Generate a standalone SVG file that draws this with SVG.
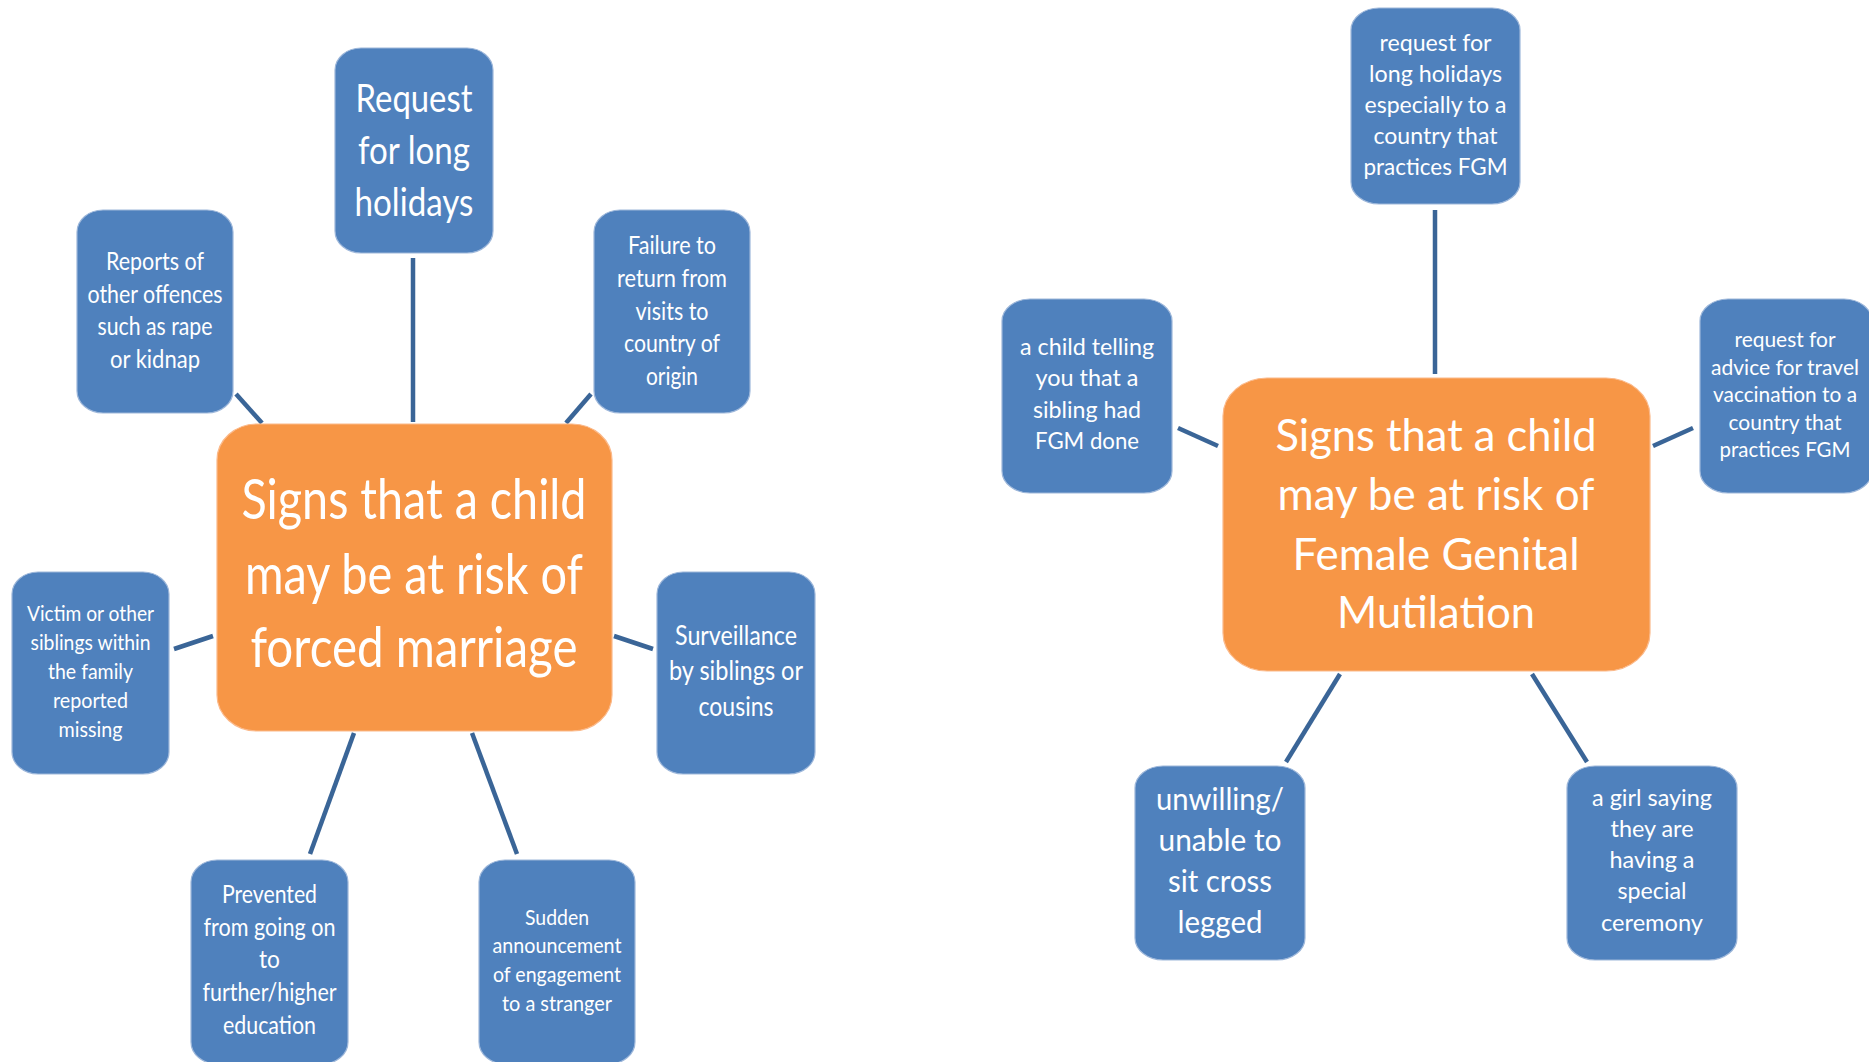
<svg xmlns="http://www.w3.org/2000/svg" width="1869" height="1062" viewBox="0 0 1869 1062">
<defs>
<style>
.b{fill:#4f81bd;stroke:#9db7da;stroke-width:1.2}
.o{fill:#f79646;stroke:#fbb98a;stroke-width:1.2}
text{font-family:Lato,"Open Sans","Liberation Sans",sans-serif;fill:#ffffff;text-anchor:middle}
.c line{stroke:#3a6597;stroke-width:4.5;stroke-linecap:butt}
</style>
</defs>
<rect width="1869" height="1062" fill="#ffffff"/>
<g class="c" id="connectors">
<line x1="413" y1="258" x2="413" y2="422"/>
<line x1="236" y1="394" x2="262" y2="423"/>
<line x1="591" y1="394" x2="566" y2="423"/>
<line x1="174" y1="649" x2="213" y2="636"/>
<line x1="614" y1="636" x2="653" y2="649"/>
<line x1="354" y1="733" x2="310" y2="854"/>
<line x1="472" y1="733" x2="517" y2="854"/>
<line x1="1435" y1="210" x2="1435" y2="374"/>
<line x1="1178" y1="428" x2="1218" y2="446"/>
<line x1="1653" y1="446" x2="1693" y2="428"/>
<line x1="1340" y1="674" x2="1286" y2="762"/>
<line x1="1532" y1="674" x2="1587" y2="762"/>
</g>
<g id="fm-center">
<rect class="o" x="217" y="424" width="395" height="307" rx="40" ry="36"/>
<g font-size="56">
<text x="414" y="519" textLength="345" lengthAdjust="spacingAndGlyphs">Signs that a child</text>
<text x="414" y="594" textLength="338" lengthAdjust="spacingAndGlyphs">may be at risk of</text>
<text x="414" y="667" textLength="327" lengthAdjust="spacingAndGlyphs">forced marriage</text>
</g>
</g>
<g id="fm-holidays">
<rect class="b" x="335" y="48" width="158" height="205" rx="26" ry="22"/>
<g font-size="39">
<text x="414" y="112" textLength="117" lengthAdjust="spacingAndGlyphs">Request</text>
<text x="414" y="164" textLength="112" lengthAdjust="spacingAndGlyphs">for long</text>
<text x="414" y="216" textLength="119" lengthAdjust="spacingAndGlyphs">holidays</text>
</g>
</g>
<g id="fm-reports">
<rect class="b" x="77" y="210" width="156" height="203" rx="26" ry="22"/>
<g font-size="25">
<text x="155" y="270" textLength="98" lengthAdjust="spacingAndGlyphs">Reports of</text>
<text x="155" y="302.5" textLength="135" lengthAdjust="spacingAndGlyphs">other offences</text>
<text x="155" y="335" textLength="115" lengthAdjust="spacingAndGlyphs">such as rape</text>
<text x="155" y="367.5" textLength="90" lengthAdjust="spacingAndGlyphs">or kidnap</text>
</g>
</g>
<g id="fm-failure">
<rect class="b" x="594" y="210" width="156" height="203" rx="26" ry="22"/>
<g font-size="25">
<text x="672" y="254" textLength="88" lengthAdjust="spacingAndGlyphs">Failure to</text>
<text x="672" y="287" textLength="110" lengthAdjust="spacingAndGlyphs">return from</text>
<text x="672" y="320" textLength="73" lengthAdjust="spacingAndGlyphs">visits to</text>
<text x="672" y="352" textLength="96" lengthAdjust="spacingAndGlyphs">country of</text>
<text x="672" y="385" textLength="52" lengthAdjust="spacingAndGlyphs">origin</text>
</g>
</g>
<g id="fm-victim">
<rect class="b" x="12" y="572" width="157" height="202" rx="26" ry="22"/>
<g font-size="22">
<text x="90.5" y="621" textLength="127" lengthAdjust="spacingAndGlyphs">Victim or other</text>
<text x="90.5" y="650" textLength="120" lengthAdjust="spacingAndGlyphs">siblings within</text>
<text x="90.5" y="679" textLength="85" lengthAdjust="spacingAndGlyphs">the family</text>
<text x="90.5" y="708" textLength="75" lengthAdjust="spacingAndGlyphs">reported</text>
<text x="90.5" y="737" textLength="64" lengthAdjust="spacingAndGlyphs">missing</text>
</g>
</g>
<g id="fm-surveillance">
<rect class="b" x="657" y="572" width="158" height="202" rx="26" ry="22"/>
<g font-size="27">
<text x="736" y="645" textLength="122" lengthAdjust="spacingAndGlyphs">Surveillance</text>
<text x="736" y="680" textLength="134" lengthAdjust="spacingAndGlyphs">by siblings or</text>
<text x="736" y="716" textLength="75" lengthAdjust="spacingAndGlyphs">cousins</text>
</g>
</g>
<g id="fm-prevented">
<rect class="b" x="191" y="860" width="157" height="204" rx="26" ry="22"/>
<g font-size="24.5">
<text x="269.5" y="903" textLength="95" lengthAdjust="spacingAndGlyphs">Prevented</text>
<text x="269.5" y="936" textLength="132" lengthAdjust="spacingAndGlyphs">from going on</text>
<text x="269.5" y="968" textLength="21" lengthAdjust="spacingAndGlyphs">to</text>
<text x="269.5" y="1001" textLength="134" lengthAdjust="spacingAndGlyphs">further/higher</text>
<text x="269.5" y="1034" textLength="93" lengthAdjust="spacingAndGlyphs">education</text>
</g>
</g>
<g id="fm-sudden">
<rect class="b" x="479" y="860" width="156" height="204" rx="26" ry="22"/>
<g font-size="22">
<text x="557" y="925" textLength="64" lengthAdjust="spacingAndGlyphs">Sudden</text>
<text x="557" y="953" textLength="129" lengthAdjust="spacingAndGlyphs">announcement</text>
<text x="557" y="982" textLength="128" lengthAdjust="spacingAndGlyphs">of engagement</text>
<text x="557" y="1011" textLength="110" lengthAdjust="spacingAndGlyphs">to a stranger</text>
</g>
</g>
<g id="fgm-center">
<rect class="o" x="1223" y="378" width="427" height="293" rx="44" ry="38"/>
<g font-size="44">
<text x="1436" y="451" textLength="321" lengthAdjust="spacingAndGlyphs">Signs that a child</text>
<text x="1436" y="510" textLength="317" lengthAdjust="spacingAndGlyphs">may be at risk of</text>
<text x="1436" y="570" textLength="287" lengthAdjust="spacingAndGlyphs">Female Genital</text>
<text x="1436" y="628" textLength="198" lengthAdjust="spacingAndGlyphs">Mutilation</text>
</g>
</g>
<g id="fgm-holidays">
<rect class="b" x="1351" y="8" width="169" height="196" rx="28" ry="22"/>
<g font-size="23.5">
<text x="1435.5" y="51" textLength="112" lengthAdjust="spacingAndGlyphs">request for</text>
<text x="1435.5" y="82" textLength="133" lengthAdjust="spacingAndGlyphs">long holidays</text>
<text x="1435.5" y="113" textLength="142" lengthAdjust="spacingAndGlyphs">especially to a</text>
<text x="1435.5" y="144" textLength="124" lengthAdjust="spacingAndGlyphs">country that</text>
<text x="1435.5" y="175" textLength="144" lengthAdjust="spacingAndGlyphs">practices FGM</text>
</g>
</g>
<g id="fgm-sibling">
<rect class="b" x="1002" y="299" width="170" height="194" rx="28" ry="22"/>
<g font-size="23.5">
<text x="1087" y="355" textLength="134" lengthAdjust="spacingAndGlyphs">a child telling</text>
<text x="1087" y="386" textLength="103" lengthAdjust="spacingAndGlyphs">you that a</text>
<text x="1087" y="418" textLength="108" lengthAdjust="spacingAndGlyphs">sibling had</text>
<text x="1087" y="449" textLength="104" lengthAdjust="spacingAndGlyphs">FGM done</text>
</g>
</g>
<g id="fgm-advice">
<rect class="b" x="1700" y="299" width="172" height="194" rx="28" ry="22"/>
<g font-size="21">
<text x="1785" y="347" textLength="101" lengthAdjust="spacingAndGlyphs">request for</text>
<text x="1785" y="374.5" textLength="148" lengthAdjust="spacingAndGlyphs">advice for travel</text>
<text x="1785" y="402" textLength="144" lengthAdjust="spacingAndGlyphs">vaccination to a</text>
<text x="1785" y="429.5" textLength="113" lengthAdjust="spacingAndGlyphs">country that</text>
<text x="1785" y="457" textLength="131" lengthAdjust="spacingAndGlyphs">practices FGM</text>
</g>
</g>
<g id="fgm-unwilling">
<rect class="b" x="1135" y="766" width="170" height="194" rx="28" ry="22"/>
<g font-size="31">
<text x="1220" y="810" textLength="128" lengthAdjust="spacingAndGlyphs">unwilling/</text>
<text x="1220" y="851" textLength="123" lengthAdjust="spacingAndGlyphs">unable to</text>
<text x="1220" y="892" textLength="104" lengthAdjust="spacingAndGlyphs">sit cross</text>
<text x="1220" y="933" textLength="85" lengthAdjust="spacingAndGlyphs">legged</text>
</g>
</g>
<g id="fgm-ceremony">
<rect class="b" x="1567" y="766" width="170" height="194" rx="28" ry="22"/>
<g font-size="23.5">
<text x="1652" y="806" textLength="120" lengthAdjust="spacingAndGlyphs">a girl saying</text>
<text x="1652" y="837" textLength="83" lengthAdjust="spacingAndGlyphs">they are</text>
<text x="1652" y="868" textLength="85" lengthAdjust="spacingAndGlyphs">having a</text>
<text x="1652" y="899" textLength="69" lengthAdjust="spacingAndGlyphs">special</text>
<text x="1652" y="931" textLength="102" lengthAdjust="spacingAndGlyphs">ceremony</text>
</g>
</g>
</svg>
